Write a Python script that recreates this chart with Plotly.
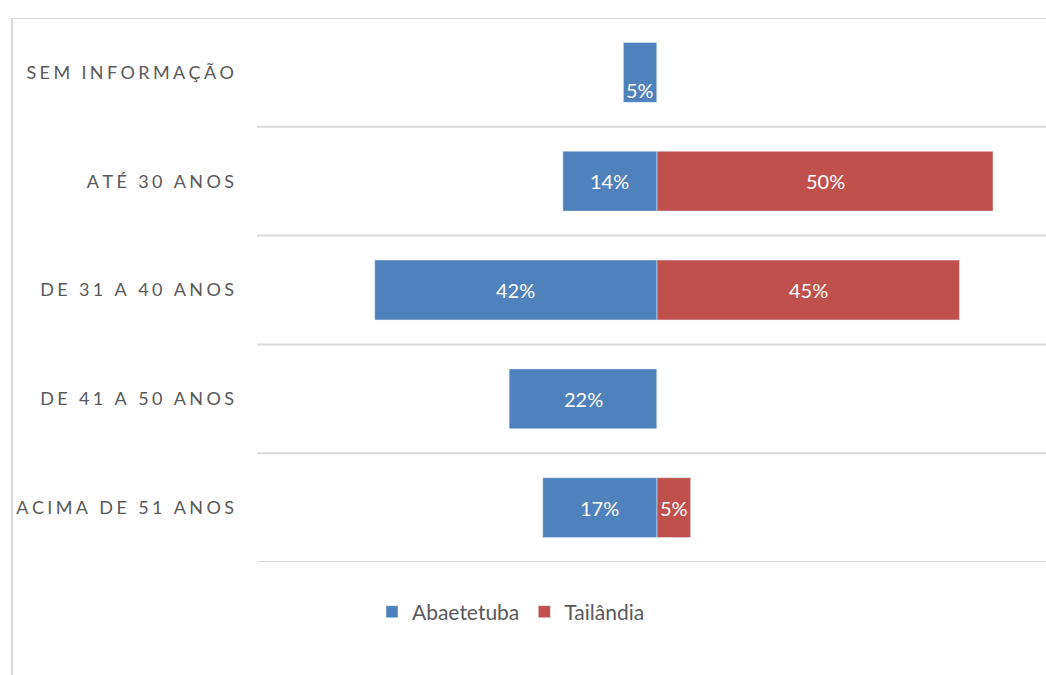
import plotly.graph_objects as go

# Age bands, top to bottom
categories = ["SEM INFORMAÇÃO", "ATÉ 30 ANOS", "DE 31 A 40 ANOS", "DE 41 A 50 ANOS", "ACIMA DE 51 ANOS"]
abaetetuba = [5, 14, 42, 22, 17]
tailandia = [0, 50, 45, 0, 5]

BLUE = "#4F81BD"
RED = "#C0504D"
GRAY = "#595959"
GRID = "#D9D9D9"
FONT = "Lato"

W, H = 1046, 675
ML, MT, MB = 257, 18, 113
PLOT_W = W - ML
PLOT_H = H - MT - MB


def spaced(s):
    # widen the tracking of the axis labels
    return "\u2009\u200A".join(s)


n = len(categories)
ypos = [n - 1 - i for i in range(n)]

fig = go.Figure()
fig.add_trace(go.Bar(
    name="Abaetetuba", y=ypos, x=[-v for v in abaetetuba], orientation="h",
    marker=dict(color=BLUE), hoverinfo="skip",
))
fig.add_trace(go.Bar(
    name="Tailândia", y=ypos, x=tailandia, orientation="h",
    marker=dict(color=RED), hoverinfo="skip",
))

label_font = dict(family=FONT, size=20, color="white")
annotations = []
for yi, v in zip(ypos, abaetetuba):
    if v:
        annotations.append(dict(
            x=-v / 2, y=yi, xref="x", yref="y", text=f"{v}%", showarrow=False,
            font=label_font,
            yshift=-18 if v < 8 and yi == n - 1 else 0,
        ))
for yi, v in zip(ypos, tailandia):
    if v:
        annotations.append(dict(
            x=v / 2, y=yi, xref="x", yref="y", text=f"{v}%", showarrow=False,
            font=label_font,
        ))

shapes = []
# category separators
for k in range(n):
    shapes.append(dict(type="line", xref="paper", yref="y", x0=0, x1=1,
                       y0=k - 0.5, y1=k - 0.5, line=dict(color=GRID, width=2)))
# outer frame: top and left edges
left_px = 12
left_paper = (left_px - ML) / PLOT_W
shapes.append(dict(type="line", xref="paper", yref="y",
                   x0=left_paper, x1=1, y0=n - 0.5, y1=n - 0.5,
                   line=dict(color=GRID, width=2)))
shapes.append(dict(type="line", xref="paper", yref="paper",
                   x0=left_paper, x1=left_paper,
                   y0=1, y1=-(MB + 5) / PLOT_H,
                   line=dict(color=GRID, width=2)))

scale = 6.72  # px per percent
center_px = 657
x_lo = -(center_px - ML) / scale
x_hi = (W - center_px) / scale

fig.update_layout(
    width=W, height=H,
    margin=dict(l=ML, r=0, t=MT, b=MB, pad=0),
    paper_bgcolor="white", plot_bgcolor="white",
    barmode="relative", bargap=0.45,
    font=dict(family=FONT, color=GRAY),
    xaxis=dict(range=[x_lo, x_hi], showgrid=False, zeroline=False,
               showticklabels=False, showline=False, fixedrange=True),
    yaxis=dict(range=[-0.5, n - 0.5], tickvals=ypos,
               ticktext=[spaced(c) for c in categories],
               tickfont=dict(family=FONT, size=18, color=GRAY),
               showgrid=False, zeroline=False, showline=False,
               ticks="", ticklabelstandoff=22, fixedrange=True),
    legend=dict(orientation="h", x=(372 - ML) / PLOT_W, xanchor="left",
                y=-(612 - (H - MB)) / PLOT_H, yanchor="middle",
                font=dict(family=FONT, size=21, color=GRAY),
                itemwidth=30, traceorder="normal"),
    annotations=annotations,
    shapes=shapes,
)

fig.write_html("out.html")
